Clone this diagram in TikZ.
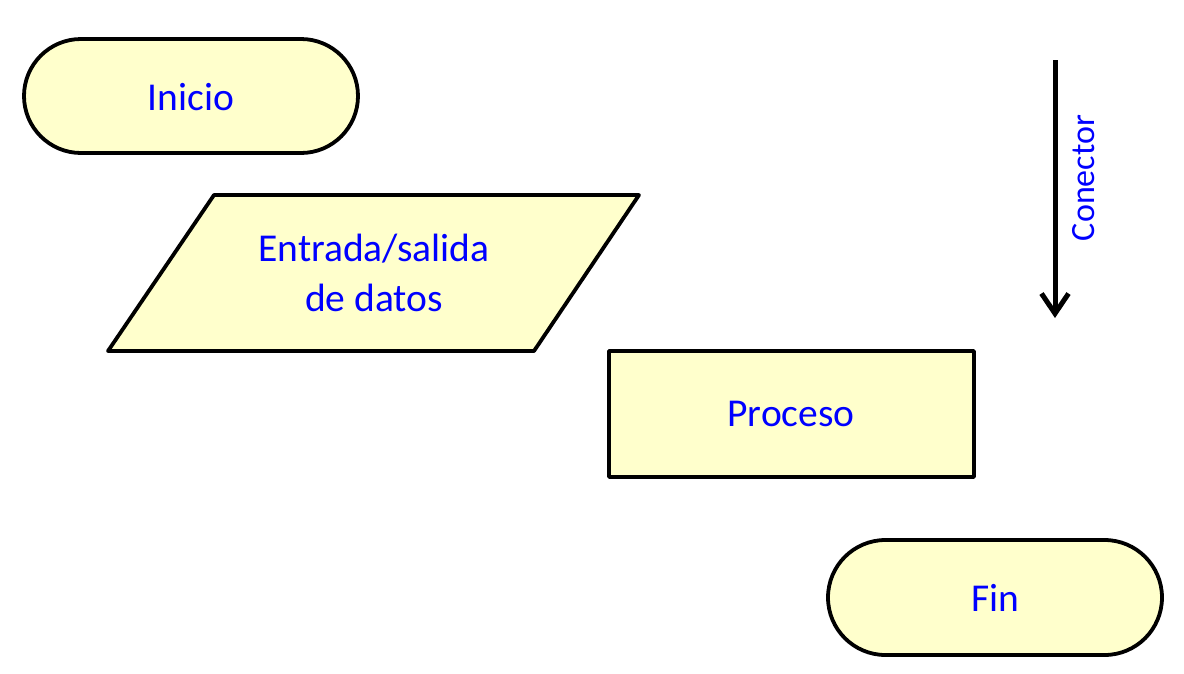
\documentclass[tikz,border=0pt]{standalone}
\usepackage{fontspec}
\setmainfont{Carlito}
\usetikzlibrary{arrows.meta}
\definecolor{shapefill}{RGB}{255,255,204}
\definecolor{txtblue}{RGB}{0,0,255}
\tikzset{
  outline/.style={draw=black, line width=3.8pt, fill=shapefill, line join=round},
  lbl/.style={text=txtblue, font=\fontsize{39.5}{50}\selectfont, align=center, inner sep=0pt},
  smalllbl/.style={text=txtblue, font=\fontsize{34}{40}\selectfont, inner sep=0pt},
}
\begin{document}
\begin{tikzpicture}[x=1pt,y=-1pt]
\useasboundingbox (0,0) rectangle (1184,673);
% Inicio
\draw[outline, rounded corners=57pt] (24,39) rectangle (358,153);
\node[lbl] (inicio) at (191,97) {Inicio};
% Entrada/salida
\draw[outline] (214,195) -- (639,195) -- (534,351) -- (108,351) -- cycle;
\node[lbl] (io) at (374,273) {Entrada/salida\\de datos};
% Proceso
\draw[outline] (609,351) rectangle (974,477);
\node[lbl] (proc) at (791,414) {Proceso};
% Fin
\draw[outline, rounded corners=57.5pt] (828,540) rectangle (1162,655);
\node[lbl] (fin) at (995,598) {Fin};
% Conector
\coordinate (ca) at (1055,60);
\coordinate (cb) at (1055,318);
\draw[line width=5pt, -{Straight Barb[length=20pt,width=27pt,line width=5pt]}] (ca) -- (cb);
\node[smalllbl, rotate=90] (conector) at (1084,178) {Conector};
\end{tikzpicture}
\end{document}
